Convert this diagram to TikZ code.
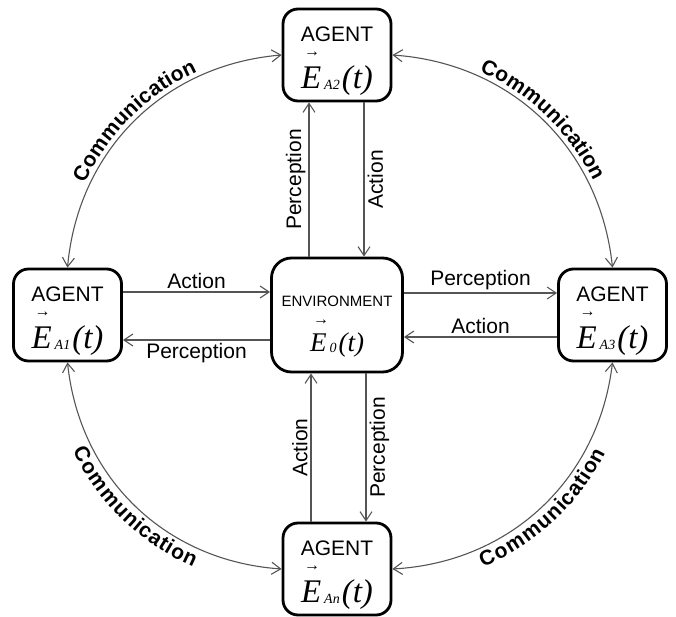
\documentclass[tikz,border=0pt]{standalone}
\usepackage{fontspec}
\setmainfont{Liberation Sans}
\newfontfamily\vecfont{Liberation Serif}
\usetikzlibrary{arrows.meta,decorations.text}
\definecolor{boxStroke}{RGB}{0,0,0}
\definecolor{linkStroke}{RGB}{85,85,85}
\newcommand{\evec}[3]{%
  {\vecfont\itshape\fontsize{#1}{#1}\selectfont
   \rlap{\kern3pt\smash{\raisebox{#2}{\upshape\fontsize{16}{16}\selectfont →}}}%
   E\kern3pt\raisebox{-1pt}{\fontsize{14}{14}\selectfont #3}\kern2pt(t)}%
}

\begin{document}
\begin{tikzpicture}[x=1pt,y=1pt,
    >={Straight Barb[length=9pt,width=12pt]},
    agent/.style={draw=boxStroke,line width=2.8pt,rounded corners=15pt,
      minimum width=108pt,minimum height=92pt,align=center,inner sep=0pt,
      font=\fontsize{21}{25}\selectfont},
    envbox/.style={agent,rounded corners=20pt,minimum width=131pt,
      minimum height=114pt,font=\fontsize{15}{18}\selectfont},
    flow/.style={->,draw=linkStroke,line width=1.1pt},
    comm/.style={<->,draw=linkStroke,line width=1.1pt},
    lbl/.style={font=\fontsize{21}{25}\selectfont,inner sep=3pt},
    vlbl/.style={lbl,rotate=90},
    commtext/.style={postaction={decorate,decoration={text along path,
      text align=center,raise=#1,
      text={|\fontsize{21}{25}\selectfont\bfseries|Communication}}}}]
  \useasboundingbox (0,0) rectangle (676,616);
  \node[envbox] (environment) at (337,301)
    {\rule{0pt}{33pt}ENVIRONMENT\\[25pt]\evec{27}{27pt}{0}};
  \node[agent] (agentOne) at (67.5,301) {\rule{0pt}{28pt}AGENT\\[22pt]\evec{33}{32pt}{A1}};
  \node[agent] (agentTwo) at (337,561) {\rule{0pt}{28pt}AGENT\\[22pt]\evec{33}{32pt}{A2}};
  \node[agent] (agentThree) at (612.5,301) {\rule{0pt}{28pt}AGENT\\[22pt]\evec{33}{32pt}{A3}};
  \node[agent] (agentN) at (337,47) {\rule{0pt}{28pt}AGENT\\[22pt]\evec{33}{32pt}{An}};

  \draw[flow] ([yshift=23]agentOne.east) -- ([yshift=23]environment.west)
    node[lbl,midway,above] {Action};
  \draw[flow] ([yshift=-25]environment.west) -- ([yshift=-25]agentOne.east)
    node[lbl,midway,below] {Perception};
  \draw[flow] ([yshift=22]environment.east) -- ([yshift=22]agentThree.west)
    node[lbl,midway,above] {Perception};
  \draw[flow] ([yshift=-22]agentThree.west) -- ([yshift=-22]environment.east)
    node[lbl,midway,above] {Action};
  \draw[flow] ([xshift=-28]environment.north) -- ([xshift=-28]agentTwo.south)
    node[vlbl,midway,anchor=south] {Perception};
  \draw[flow] ([xshift=27]agentTwo.south) -- ([xshift=27]environment.north)
    node[vlbl,midway,anchor=north] {Action};
  \draw[flow] ([xshift=-26]agentN.north) -- ([xshift=-26]environment.south)
    node[vlbl,midway,anchor=south] {Action};
  \draw[flow] ([xshift=29]environment.south) -- ([xshift=29]agentN.north)
    node[vlbl,midway,anchor=north] {Perception};

  \draw[comm,commtext=5pt] (agentOne.north) to[bend left=40] (agentTwo.west);
  \draw[comm,commtext=5pt] (agentTwo.east) to[bend left=40] (agentThree.north);
  \draw[comm,commtext=-19pt] (agentOne.south) to[bend right=40] (agentN.west);
  \draw[comm,commtext=-19pt] (agentN.east) to[bend right=40] (agentThree.south);
\end{tikzpicture}
\end{document}
